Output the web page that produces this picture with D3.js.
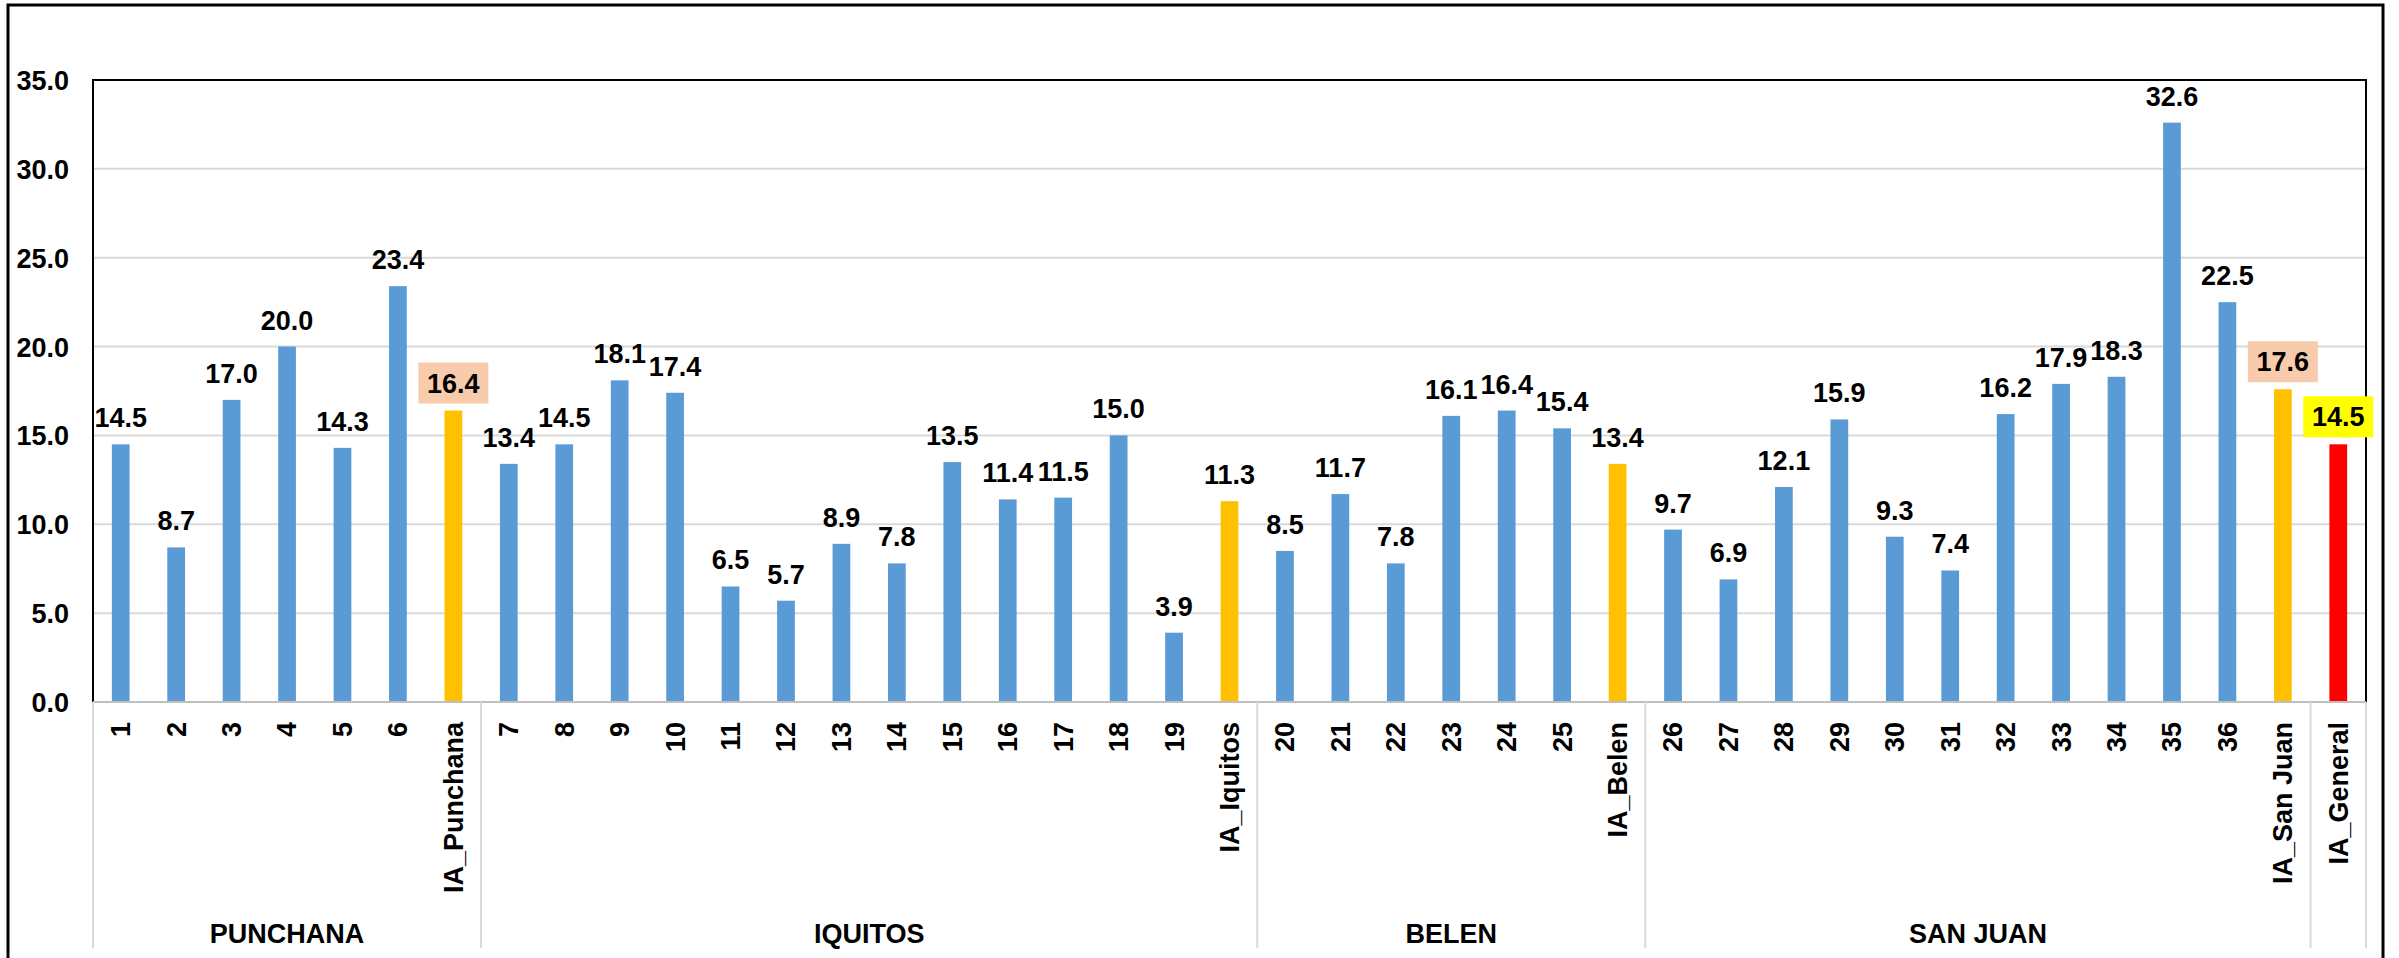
<!DOCTYPE html>
<html>
<head>
<meta charset="utf-8">
<script src="https://cdn.jsdelivr.net/npm/d3@7"></script>
<style>
  body { margin: 0; background: #fff; }
  text { font-family: "Liberation Sans", Arial, sans-serif; font-weight: bold; fill: #000; }
</style>
</head>
<body>
<div id="chart"></div>
<script>
// datos
var categories = ["1","2","3","4","5","6","IA_Punchana",
  "7","8","9","10","11","12","13","14","15","16","17","18","19","IA_Iquitos",
  "20","21","22","23","24","25","IA_Belen",
  "26","27","28","29","30","31","32","33","34","35","36","IA_San Juan",
  "IA_General"];
var values = [14.5, 8.7, 17.0, 20.0, 14.3, 23.4, 16.4,
  13.4, 14.5, 18.1, 17.4, 6.5, 5.7, 8.9, 7.8, 13.5, 11.4, 11.5, 15.0, 3.9, 11.3,
  8.5, 11.7, 7.8, 16.1, 16.4, 15.4, 13.4,
  9.7, 6.9, 12.1, 15.9, 9.3, 7.4, 16.2, 17.9, 18.3, 32.6, 22.5, 17.6,
  14.5];
var groupNames = ["PUNCHANA", "IQUITOS", "BELEN", "SAN JUAN", ""];
var groupCounts = [7, 14, 7, 12, 1];
var yTicks = [0, 5, 10, 15, 20, 25, 30, 35];

// estilos
var width = 2399, height = 958;
var plotLeft = 93, plotRight = 2366, plotTop = 80, plotBottom = 702;
var boxFill = {"IA_Punchana": "#F8CBAD", "IA_San Juan": "#F8CBAD", "IA_General": "#FFFF00"};

function barColor(name) {
  if (name === "IA_General") return "#FF0000";
  if (name.indexOf("IA_") === 0) return "#FFC000";
  return "#5B9BD5";
}

var svg = d3.select("#chart").append("svg")
  .attr("width", width)
  .attr("height", height);

var x = d3.scaleBand().domain(categories).range([plotLeft, plotRight])
  .paddingInner(0.68).paddingOuter(0.34);
var y = d3.scaleLinear().domain([0, 35]).range([plotBottom, plotTop]);

// marco exterior
svg.append("rect")
  .attr("x", 8).attr("y", 5)
  .attr("width", 2375).attr("height", 970)
  .attr("fill", "none").attr("stroke", "#000").attr("stroke-width", 3);

// grilla
svg.append("g").selectAll("line").data(yTicks.slice(1)).enter().append("line")
  .attr("x1", plotLeft).attr("x2", plotRight)
  .attr("y1", function(d) { return y(d); })
  .attr("y2", function(d) { return y(d); })
  .attr("stroke", "#D9D9D9").attr("stroke-width", 2);

// eje y
var yAxis = svg.append("g")
  .attr("transform", "translate(" + plotLeft + ",0)")
  .call(d3.axisLeft(y).tickValues(yTicks).tickFormat(d3.format(".1f")).tickSize(0).tickPadding(24));
yAxis.select(".domain").remove();
yAxis.selectAll("text").style("font-size", "27px").attr("dy", "0.35em");

// barras
svg.append("g").selectAll("rect").data(values).enter().append("rect")
  .attr("x", function(d, i) { return x(categories[i]); })
  .attr("y", function(d) { return y(d); })
  .attr("width", x.bandwidth())
  .attr("height", function(d) { return y(0) - y(d); })
  .attr("fill", function(d, i) { return barColor(categories[i]); });

// borde del area del grafico
svg.append("path")
  .attr("d", "M" + plotLeft + "," + plotBottom + "V" + plotTop + "H" + plotRight + "V" + plotBottom)
  .attr("fill", "none").attr("stroke", "#000").attr("stroke-width", 2);

// eje x
var xAxis = svg.append("g")
  .attr("transform", "translate(0," + plotBottom + ")")
  .call(d3.axisBottom(x).tickSize(0).tickPadding(0));
xAxis.select(".domain").remove();
xAxis.selectAll("text")
  .style("font-size", "27px")
  .attr("text-anchor", "end")
  .attr("transform", "rotate(-90)")
  .attr("x", -20)
  .attr("y", 0)
  .attr("dy", "0.35em");

svg.append("line")
  .attr("x1", plotLeft).attr("x2", plotRight)
  .attr("y1", plotBottom).attr("y2", plotBottom)
  .attr("stroke", "#BFBFBF").attr("stroke-width", 2);

// grupos
var step = x.step();
var start = 0;
var bounds = [0];
var groupG = svg.append("g");
groupNames.forEach(function(g, i) {
  var end = start + groupCounts[i];
  var cx = plotLeft + step * (start + end) / 2;
  groupG.append("text")
    .attr("x", cx).attr("y", 943)
    .attr("text-anchor", "middle")
    .style("font-size", "27px")
    .text(g);
  bounds.push(end);
  start = end;
});
groupG.selectAll("line").data(bounds).enter().append("line")
  .attr("x1", function(d) { return plotLeft + step * d; })
  .attr("x2", function(d) { return plotLeft + step * d; })
  .attr("y1", plotBottom).attr("y2", 948)
  .attr("stroke", "#D9D9D9").attr("stroke-width", 2);

// etiquetas de datos
var labels = svg.append("g");
values.forEach(function(v, i) {
  var name = categories[i];
  var cx = x(name) + x.bandwidth() / 2;
  var fill = boxFill[name];
  var base = fill ? y(v) - 18 : y(v) - 17;
  if (fill) {
    labels.append("rect")
      .attr("x", cx - 35).attr("y", base - 30)
      .attr("width", 70).attr("height", 41)
      .attr("fill", fill);
  }
  labels.append("text")
    .attr("x", cx).attr("y", base)
    .attr("text-anchor", "middle")
    .style("font-size", "27px")
    .text(d3.format(".1f")(v));
});
</script>
</body>
</html>
